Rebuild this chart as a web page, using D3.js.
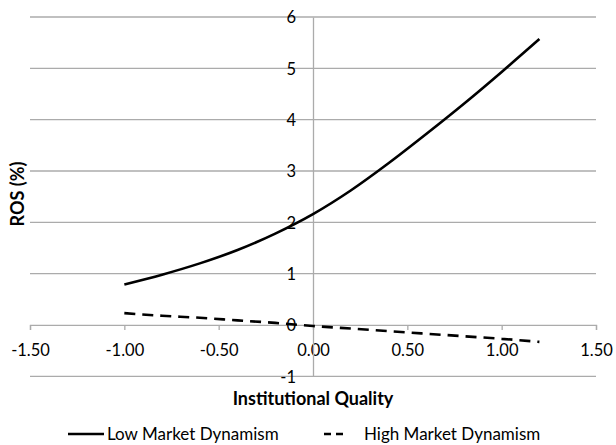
<!DOCTYPE html>
<html>
<head>
<meta charset="utf-8">
<script src="https://cdn.jsdelivr.net/npm/d3@7"></script>
<style>
  html, body { margin: 0; padding: 0; background: #fff; }
  svg { display: block; }
  text { font-family: Lato, "Open Sans", sans-serif; fill: #000; }
</style>
</head>
<body>
<svg id="chart" width="616" height="445"></svg>
<script>
// ---- data ----
const xTicks = [-1.5, -1.0, -0.5, 0.0, 0.5, 1.0, 1.5];
const yTicks = [-1, 0, 1, 2, 3, 4, 5, 6];
const quality = [-1.0, -0.8, -0.6, -0.4, -0.2, 0.0, 0.2, 0.4, 0.6, 0.8, 1.0, 1.2];
const lowDynamism  = [0.79, 0.98, 1.20, 1.46, 1.78, 2.16, 2.62, 3.15, 3.72, 4.31, 4.93, 5.57];
const highDynamism = [0.23, 0.18, 0.14, 0.09, 0.04, -0.02, -0.07, -0.12, -0.17, -0.22, -0.27, -0.33];
const seriesNames = ["Low Market Dynamism", "High Market Dynamism"];
const xTitle = "Institutional Quality";
const yTitle = "ROS (%)";

// ---- layout ----
const svg = d3.select("#chart");
const x = d3.scaleLinear().domain([-1.5, 1.5]).range([30, 596]);
const y = d3.scaleLinear().domain([-1, 6]).range([376.3, 17]);
const gridColor = "#ababab";
const tickFont = "16.5px";

// horizontal gridlines
svg.append("g").selectAll("line")
  .data(yTicks.filter(d => d !== 0))
  .join("line")
  .attr("x1", x(-1.5)).attr("x2", x(1.5))
  .attr("y1", d => y(d)).attr("y2", d => y(d))
  .attr("stroke", gridColor).attr("stroke-width", 1.3);

// x axis (at y = 0)
const xAxis = d3.axisBottom(x).tickValues(xTicks).tickSize(5).tickFormat(d3.format(".2f"));
const gx = svg.append("g").attr("transform", `translate(0,${y(0)})`).call(xAxis);
gx.select(".domain").attr("stroke", gridColor).attr("stroke-width", 1.3);
gx.selectAll(".tick line").attr("stroke", gridColor).attr("stroke-width", 1.3);
gx.selectAll(".tick text")
  .attr("y", 25).attr("dy", "0.35em")
  .style("font-size", tickFont).style("font-family", "Lato, 'Open Sans', sans-serif")
  .text(d => d3.format(".2f")(d).replace("−", "-"));

// y axis (at x = 0)
const yAxis = d3.axisLeft(y).tickValues(yTicks).tickSize(0).tickFormat(d => String(d));
const gy = svg.append("g").attr("transform", `translate(${x(0)},0)`).call(yAxis);
gy.select(".domain").attr("stroke", gridColor).attr("stroke-width", 1.3);
gy.selectAll(".tick text")
  .attr("x", -17).attr("dy", "0.35em")
  .style("font-size", tickFont).style("font-family", "Lato, 'Open Sans', sans-serif")
  .text(d => String(d).replace("−", "-"));

// lines
const rows = quality.map((q, i) => ({ q, low: lowDynamism[i], high: highDynamism[i] }));
const lineLow = d3.line().x(d => x(d.q)).y(d => y(d.low)).curve(d3.curveMonotoneX);
const lineHigh = d3.line().x(d => x(d.q)).y(d => y(d.high)).curve(d3.curveMonotoneX);

svg.append("path").datum(rows).attr("d", lineLow)
  .attr("fill", "none").attr("stroke", "#000").attr("stroke-width", 2.6);
svg.append("path").datum(rows).attr("d", lineHigh)
  .attr("fill", "none").attr("stroke", "#000").attr("stroke-width", 2.6)
  .attr("stroke-dasharray", "11,7");

// axis titles
svg.append("text").attr("x", x(0)).attr("y", 399).attr("dy", "0.35em")
  .attr("text-anchor", "middle").style("font-size", "18px").style("font-weight", "bold")
  .text(xTitle);
svg.append("text").attr("transform", `translate(18,194) rotate(-90)`).attr("dy", "0.35em")
  .attr("text-anchor", "middle").style("font-size", "18px").style("font-weight", "bold")
  .text(yTitle);

// legend
const legY = 434;
svg.append("line").attr("x1", 68).attr("x2", 104).attr("y1", legY).attr("y2", legY)
  .attr("stroke", "#000").attr("stroke-width", 2.6);
svg.append("text").attr("x", 107).attr("y", legY).attr("dy", "0.35em")
  .style("font-size", "17px").text(seriesNames[0]);
svg.append("line").attr("x1", 324).attr("x2", 343).attr("y1", legY).attr("y2", legY)
  .attr("stroke", "#000").attr("stroke-width", 2.6).attr("stroke-dasharray", "7,5");
svg.append("text").attr("x", 364).attr("y", legY).attr("dy", "0.35em")
  .style("font-size", "17px").text(seriesNames[1]);
</script>
</body>
</html>
